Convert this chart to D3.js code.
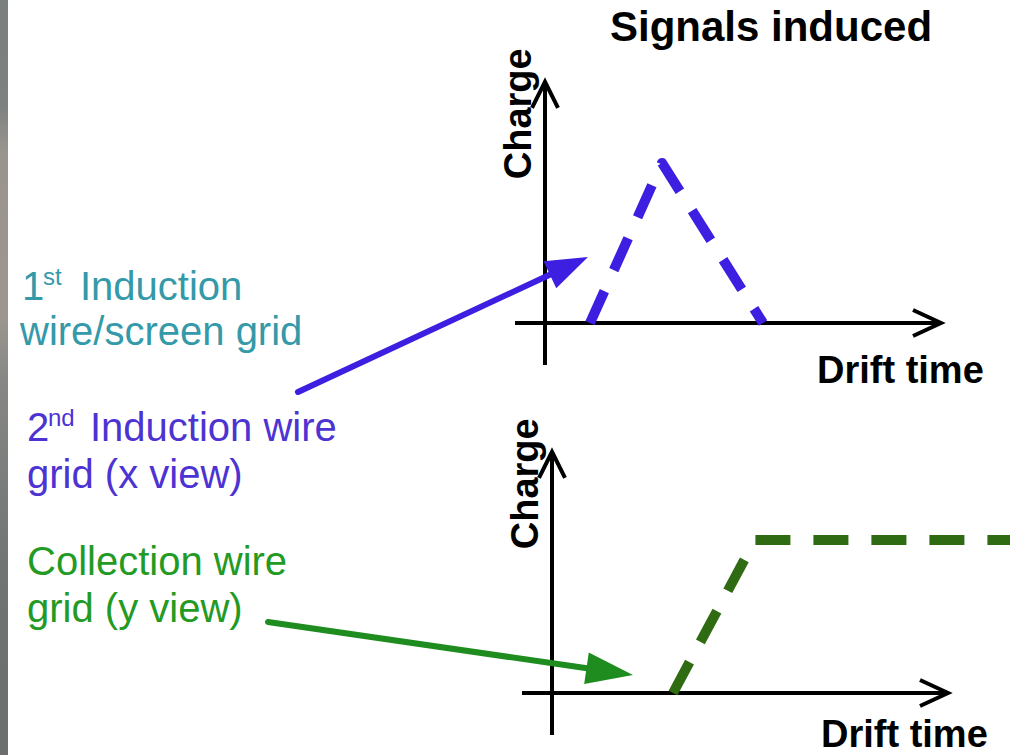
<!DOCTYPE html>
<html>
<head>
<meta charset="utf-8">
<script src="https://cdn.jsdelivr.net/npm/d3@7"></script>
<style>
  html, body { margin: 0; padding: 0; background: #ffffff; }
  svg { display: block; }
</style>
</head>
<body>
<svg id="chart" width="1021" height="755"></svg>
<script>
// ---- data ----
// top panel: 2nd induction wire grid (triangle signal)
const inductionTime   = [11.25, 29.25, 54.5];
const inductionCharge = [0, 66.7, 0];
// bottom panel: collection wire grid (step signal)
const collectionTime   = [30.25, 50.75, 114.5];
const collectionCharge = [0, 63.75, 63.75];
// axis extents (data units)
const axisTimeExtent   = [-7.5, 99];
const axisChargeExtent = [-17.5, 100.5];
// annotation arrows (in panel data units): [start, tip]
const inductionArrow  = [[-61.75, -28.75], [10.75, 27.5]];
const collectionArrow = [[-71, 29.6], [20.25, 7.5]];
// texts
const titleText = "Signals induced";
const xLabel = "Drift time";
const yLabel = "Charge";

const svg = d3.select("#chart");
const font = "'Liberation Sans', Arial, Helvetica, sans-serif";

// left gray strip
const defs = svg.append("defs");
const grad = defs.append("linearGradient").attr("id", "strip").attr("x1", 0).attr("y1", 0).attr("x2", 0).attr("y2", 1);
[[0, "#7a807d"], [0.14, "#7d817f"], [0.2, "#9a948e"], [0.42, "#9c968f"], [0.5, "#878885"], [0.75, "#707573"], [1, "#6a6f6d"]]
  .forEach(([o, c]) => grad.append("stop").attr("offset", o).attr("stop-color", c));
svg.append("rect").attr("x", 0).attr("y", 0).attr("width", 8).attr("height", 755).attr("fill", "url(#strip)");

// panels
const panels = [
  { x: d3.scaleLinear().domain([0, 100]).range([545, 945]),
    y: d3.scaleLinear().domain([0, 100]).range([323, 83]),
    time: inductionTime, charge: inductionCharge, color: "#3c1fe0",
    arrow: inductionArrow, arrowColor: "#3c1fe0", arrowWidth: 6, headL: 42, headW: 30,
    ylabX: 531, xlabX: 817, xlabY: 383 },
  { x: d3.scaleLinear().domain([0, 100]).range([552, 952]),
    y: d3.scaleLinear().domain([0, 100]).range([693, 453]),
    time: collectionTime, charge: collectionCharge, color: "#2f6b12",
    arrow: collectionArrow, arrowColor: "#1e8c1e", arrowWidth: 6, headL: 47, headW: 32,
    ylabX: 538, xlabX: 821, xlabY: 747 }
];

panels.forEach(p => {
  const g = svg.append("g");
  const x0 = p.x(0), y0 = p.y(0);
  const xa = p.x(axisTimeExtent[0]), xb = p.x(axisTimeExtent[1]);
  const ya = p.y(axisChargeExtent[0]), yb = p.y(axisChargeExtent[1]);

  // axes
  g.append("line").attr("x1", xa).attr("y1", y0).attr("x2", xb).attr("y2", y0)
    .attr("stroke", "#000").attr("stroke-width", 4);
  g.append("line").attr("x1", x0).attr("y1", ya).attr("x2", x0).attr("y2", yb)
    .attr("stroke", "#000").attr("stroke-width", 4);
  // open arrowheads
  g.append("path").attr("d", `M${xb - 28},${y0 - 13}L${xb},${y0}L${xb - 28},${y0 + 13}`)
    .attr("fill", "none").attr("stroke", "#000").attr("stroke-width", 4);
  g.append("path").attr("d", `M${x0 - 13},${yb + 26}L${x0},${yb}L${x0 + 13},${yb + 26}`)
    .attr("fill", "none").attr("stroke", "#000").attr("stroke-width", 4);

  // signal (dashed)
  const line = d3.line().x(d => p.x(d[0])).y(d => p.y(d[1]));
  g.append("path").datum(d3.zip(p.time, p.charge)).attr("d", line)
    .attr("fill", "none").attr("stroke", p.color).attr("stroke-width", 10)
    .attr("stroke-dasharray", "35,23").attr("stroke-linejoin", "round");

  // axis labels
  g.append("text").attr("transform", `translate(${p.ylabX},${(p.y(axisChargeExtent[1]) + 32)}) rotate(-90)`)
    .attr("text-anchor", "middle").attr("font-family", font).attr("font-weight", "bold")
    .attr("font-size", 38).attr("fill", "#000").text(yLabel);
  g.append("text").attr("x", p.xlabX).attr("y", p.xlabY)
    .attr("font-family", font).attr("font-weight", "bold").attr("font-size", 38)
    .attr("fill", "#000").text(xLabel);

  // annotation arrow
  const s = [p.x(p.arrow[0][0]), p.y(p.arrow[0][1])];
  const t = [p.x(p.arrow[1][0]), p.y(p.arrow[1][1])];
  const len = Math.hypot(t[0] - s[0], t[1] - s[1]);
  const u = [(t[0] - s[0]) / len, (t[1] - s[1]) / len];
  const n = [-u[1], u[0]];
  const b = [t[0] - p.headL * u[0], t[1] - p.headL * u[1]];
  g.append("line").attr("x1", s[0]).attr("y1", s[1]).attr("x2", b[0] + 4 * u[0]).attr("y2", b[1] + 4 * u[1])
    .attr("stroke", p.arrowColor).attr("stroke-width", p.arrowWidth).attr("stroke-linecap", "round");
  const hw = p.headW / 2;
  g.append("path").attr("d",
      `M${t[0]},${t[1]}L${b[0] + hw * n[0]},${b[1] + hw * n[1]}L${b[0] - hw * n[0]},${b[1] - hw * n[1]}Z`)
    .attr("fill", p.arrowColor);
});

// title
svg.append("text").attr("x", 610).attr("y", 41).attr("font-family", font).attr("font-weight", "bold")
  .attr("font-size", 42).attr("fill", "#000").text(titleText);

// left labels
const lab = (x, y, size, color) => svg.append("text").attr("x", x).attr("y", y)
  .attr("font-family", font).attr("font-size", size).attr("fill", color);

const teal = "#3499a8", purple = "#4c33d2", green = "#239a23";
lab(22, 300, 40, teal).text("1");
lab(43, 285, 24, teal).text("st");
lab(80, 300, 40, teal).text("Induction");
lab(20, 345, 40, teal).text("wire/screen grid");

lab(27, 441, 40, purple).text("2");
lab(48, 426, 24, purple).text("nd");
lab(90, 441, 40, purple).text("Induction wire");
lab(27, 488, 40, purple).text("grid (x view)");

lab(27, 575, 40, green).text("Collection wire");
lab(27, 622, 40, green).text("grid (y view)");
</script>
</body>
</html>
